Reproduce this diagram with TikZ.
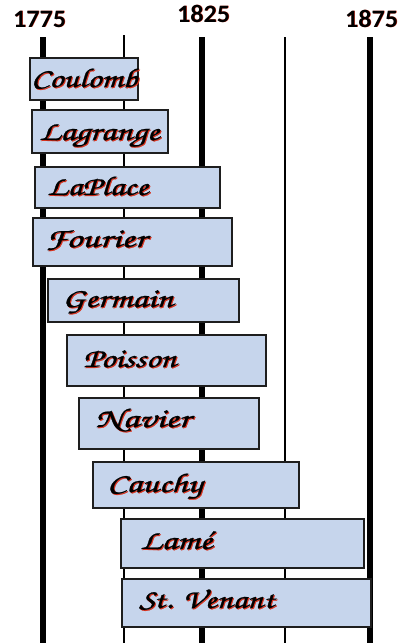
\documentclass[tikz,border=0pt]{standalone}
\usepackage{fontspec}
\usepackage{graphicx}
\newfontfamily\callig[FakeBold=0.9]{TeX Gyre Chorus}
\newfontfamily\yearfont{Carlito}
\definecolor{boxblue}{HTML}{C6D5EC}
\definecolor{boxedge}{HTML}{1E1E1E}
\definecolor{shadowred}{HTML}{D8321E}
\tikzset{
  thickrule/.style={line width=6pt, black},
  thinrule/.style={line width=1.8pt, black},
  namebox/.style={draw=boxedge, line width=1.6pt, fill=boxblue, inner sep=0pt, anchor=north west},
  namelbl/.style={inner sep=0pt, anchor=base west, font=\callig\fontsize{27}{30}\selectfont},
  yearlbl/.style={inner sep=0pt, anchor=base, font=\yearfont\bfseries\fontsize{25}{28}\selectfont},
}
% a label with a red drop shadow; #1 style, #2 position, #3 width, #4 text, #5 name, #6 shadow offset
\newcommand\shadowtext[6]{%
  \node[#1, text=shadowred] at ($#2+(#6,#6)$) {\resizebox{#3}{\height}{#4}};
  \node[#1, text=black] (#5) at #2 {\resizebox{#3}{\height}{#4}};
}
\usetikzlibrary{calc}
\begin{document}
\begin{tikzpicture}[x=1pt, y=-1pt]
\useasboundingbox (0,0) rectangle (406,643);
\fill[white] (0,0) rectangle (406,643);

% year rules
\coordinate (t1775) at (43,37);  \coordinate (b1775) at (43,643);
\coordinate (t1800) at (124,35); \coordinate (b1800) at (124,643);
\coordinate (t1825) at (202,37); \coordinate (b1825) at (202,643);
\coordinate (t1850) at (285,37); \coordinate (b1850) at (285,643);
\coordinate (t1875) at (370,37); \coordinate (b1875) at (370,643);
\draw[thickrule] (t1775) -- (b1775);
\draw[thinrule]  (t1800) -- (b1800);
\draw[thickrule] (t1825) -- (b1825);
\draw[thinrule]  (t1850) -- (b1850);
\draw[thickrule] (t1875) -- (b1875);

% year labels
\shadowtext{yearlbl}{(39.5,27)}{53pt}{1775}{y1775}{0.7}
\shadowtext{yearlbl}{(203.5,22)}{53pt}{1825}{y1825}{0.7}
\shadowtext{yearlbl}{(371.5,27)}{53pt}{1875}{y1875}{0.7}

% life spans
\node[namebox, minimum width=108pt, minimum height=42pt] (coulomb)  at (29,57)  {};
\node[namebox, minimum width=136pt, minimum height=43pt] (lagrange) at (31,109) {};
\node[namebox, minimum width=185pt, minimum height=41pt] (laplace)  at (34,166) {};
\node[namebox, minimum width=199pt, minimum height=48pt] (fourier)  at (32,217) {};
\node[namebox, minimum width=191pt, minimum height=43pt] (germain)  at (47,278) {};
\node[namebox, minimum width=199pt, minimum height=51pt] (poisson)  at (66,334) {};
\node[namebox, minimum width=180pt, minimum height=51pt] (navier)   at (78,397) {};
\node[namebox, minimum width=206pt, minimum height=46pt] (cauchy)   at (92,461) {};
\node[namebox, minimum width=243pt, minimum height=49pt] (lame)     at (120,518) {};
\node[namebox, minimum width=249pt, minimum height=48pt] (venant)   at (121,578) {};

% names
\shadowtext{namelbl}{(31,87)}{106pt}{Coulomb}{tcoulomb}{1}
\shadowtext{namelbl}{(39,140)}{120pt}{Lagrange}{tlagrange}{1}
\shadowtext{namelbl}{(47,195)}{101pt}{LaPlace}{tlaplace}{1}
\shadowtext{namelbl}{(45,247)}{101pt}{Fourier}{tfourier}{1}
\shadowtext{namelbl}{(62,307)}{111pt}{Germain}{tgermain}{1}
\shadowtext{namelbl}{(83,367)}{93pt}{Poisson}{tpoisson}{1}
\shadowtext{namelbl}{(95,427)}{95pt}{Navier}{tnavier}{1}
\shadowtext{namelbl}{(107,492)}{95pt}{Cauchy}{tcauchy}{1}
\shadowtext{namelbl}{(140,549)}{72pt}{Lamé}{tlame}{1}
\shadowtext{namelbl}{(139,608)}{135pt}{St. Venant}{tvenant}{1}
\end{tikzpicture}
\end{document}
